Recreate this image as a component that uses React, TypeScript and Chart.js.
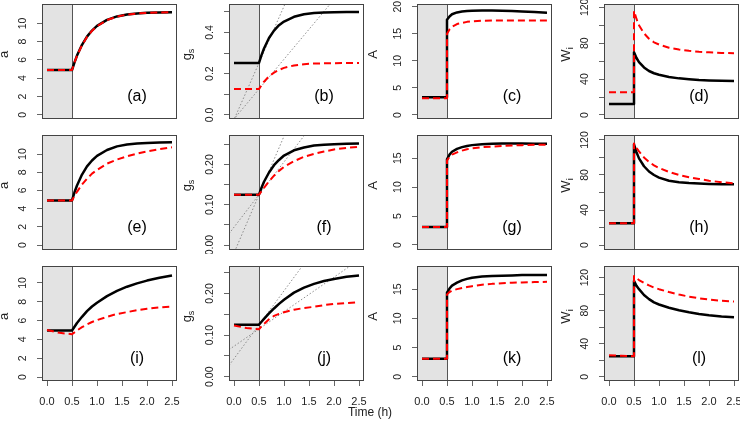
import React, { useEffect, useRef } from 'react';
import { Chart, registerables } from 'chart.js';
Chart.register(...registerables);

const FONT = '"Liberation Sans", Arial, Helvetica, sans-serif';

// ---- data ----
const TIME = [0, 0.25, 0.5, 0.5, 0.55, 0.6, 0.7, 0.8, 0.9, 1.0, 1.2, 1.4, 1.6, 1.8, 2.0, 2.25, 2.5];
const SHADE_END = 0.5;
const X_TICKS = [0, 0.5, 1, 1.5, 2, 2.5];
const TANGENT_X = [-0.1, 2.6];

const A_BLACK = [4.9, 4.9, 4.9, 4.9, 5.74, 6.48, 7.66, 8.56, 9.22, 9.73, 10.39, 10.77, 10.98, 11.1, 11.16, 11.21, 11.23];
const A_RED = [4.9, 4.9, 4.9, 4.9, 5.72, 6.45, 7.62, 8.52, 9.19, 9.7, 10.37, 10.75, 10.97, 11.09, 11.15, 11.2, 11.22];
const E_BLACK = [4.9, 4.9, 4.9, 4.9, 5.8, 6.55, 7.75, 8.65, 9.3, 9.8, 10.45, 10.85, 11.05, 11.17, 11.23, 11.27, 11.3];
const E_RED = [4.9, 4.9, 4.9, 4.9, 5.4, 5.85, 6.65, 7.3, 7.85, 8.25, 8.95, 9.4, 9.75, 10.05, 10.3, 10.55, 10.75];
const I_BLACK = [4.95, 4.95, 4.95, 4.95, 5.35, 5.75, 6.4, 7.0, 7.5, 7.9, 8.6, 9.15, 9.6, 9.95, 10.25, 10.55, 10.8];
const I_RED = [5.0, 4.7, 4.55, 4.55, 4.75, 4.95, 5.3, 5.6, 5.85, 6.05, 6.4, 6.7, 6.9, 7.1, 7.25, 7.4, 7.5];

const B_BLACK = [0.252, 0.252, 0.252, 0.252, 0.29, 0.322, 0.373, 0.409, 0.435, 0.453, 0.476, 0.488, 0.494, 0.497, 0.498, 0.499, 0.499];
const B_RED = [0.125, 0.125, 0.125, 0.125, 0.145, 0.161, 0.187, 0.205, 0.218, 0.228, 0.24, 0.246, 0.249, 0.25, 0.251, 0.252, 0.252];
const F_BLACK = [0.125, 0.125, 0.125, 0.125, 0.142, 0.157, 0.18, 0.198, 0.211, 0.222, 0.235, 0.242, 0.247, 0.249, 0.25, 0.251, 0.252];
const F_RED = [0.125, 0.125, 0.125, 0.125, 0.133, 0.142, 0.158, 0.172, 0.184, 0.194, 0.208, 0.219, 0.226, 0.232, 0.237, 0.241, 0.244];
const J_BLACK = [0.125, 0.125, 0.125, 0.125, 0.132, 0.139, 0.152, 0.164, 0.175, 0.185, 0.202, 0.214, 0.223, 0.23, 0.235, 0.24, 0.243];
const J_RED = [0.123, 0.117, 0.114, 0.114, 0.121, 0.127, 0.138, 0.146, 0.151, 0.155, 0.161, 0.165, 0.168, 0.172, 0.175, 0.177, 0.179];

const C_BLACK = [3.3, 3.3, 3.3, 17.6, 18.2, 18.6, 18.95, 19.1, 19.2, 19.25, 19.3, 19.3, 19.25, 19.2, 19.1, 19.0, 18.9];
const C_RED = [3.1, 3.1, 3.1, 15.0, 15.8, 16.3, 16.8, 17.0, 17.2, 17.3, 17.4, 17.45, 17.45, 17.45, 17.45, 17.45, 17.45];
const G_BLACK = [3.1, 3.1, 3.1, 14.8, 15.6, 16.1, 16.6, 16.9, 17.1, 17.25, 17.4, 17.5, 17.55, 17.55, 17.55, 17.5, 17.5];
const G_RED = [3.1, 3.1, 3.1, 14.6, 15.2, 15.6, 16.0, 16.3, 16.55, 16.7, 16.9, 17.0, 17.1, 17.2, 17.25, 17.3, 17.3];
const K_BLACK = [3.1, 3.1, 3.1, 14.4, 15.1, 15.6, 16.1, 16.5, 16.75, 16.95, 17.15, 17.25, 17.3, 17.35, 17.4, 17.4, 17.4];
const K_RED = [3.1, 3.1, 3.1, 14.1, 14.5, 14.75, 15.0, 15.2, 15.35, 15.5, 15.75, 15.9, 16.0, 16.1, 16.15, 16.2, 16.25];

const D_BLACK = [12.3, 12.3, 12.3, 70, 63.5, 59, 53, 49, 46.5, 44.8, 42.3, 40.8, 39.8, 39.0, 38.5, 38.1, 37.8];
const D_RED = [25.3, 25.3, 25.3, 116, 107, 100, 91, 85, 81, 78.5, 75, 73, 71.5, 70.5, 69.8, 69.2, 68.8];
const H_BLACK = [24.8, 24.8, 24.8, 115, 106, 99, 90, 84, 80, 77, 73.5, 71.8, 70.8, 70.2, 69.8, 69.5, 69.3];
const H_RED = [24.8, 24.8, 24.8, 116, 111, 107, 100, 95, 91, 88, 83.5, 80, 77.5, 75.5, 73.5, 71.8, 70.5];
const L_BLACK = [24.8, 24.8, 24.8, 116, 110, 106, 99, 94, 90, 87.5, 83.5, 80.5, 78, 76, 74.5, 73, 72];
const L_RED = [26, 25.5, 25, 122, 119.5, 117, 113.5, 110.5, 108, 106, 102.5, 99.5, 97, 95, 93.5, 92, 91];

// tangent (dotted) lines: y at TANGENT_X
const TAN_B1 = [-0.078, 1.407];
const TAN_B2 = [-0.049, 0.734];
const TAN_F1 = [-0.049, 0.734];
const TAN_F2 = [0.028, 0.465];
const TAN_J1 = [0.027, 0.467];
const TAN_J2 = [0.065, 0.289];

// y ticks
const A_TICKS = [0, 2, 4, 6, 8, 10];
const A_LABELS = ['0', '2', '4', '6', '8', '10'];
const GS_TICKS_B = [0, 0.1, 0.2, 0.3, 0.4, 0.5];
const GS_LABEL_VALS_B = [0, 0.2, 0.4];
const GS_LABELS_B = ['0.0', '0.2', '0.4'];
const GS_TICKS = [0, 0.05, 0.1, 0.15, 0.2, 0.25];
const GS_LABEL_VALS = [0, 0.1, 0.2];
const GS_LABELS = ['0.00', '0.10', '0.20'];
const AN_TICKS_C = [0, 5, 10, 15, 20];
const AN_LABELS_C = ['0', '5', '10', '15', '20'];
const AN_TICKS = [0, 5, 10, 15];
const AN_LABELS = ['0', '5', '10', '15'];
const W_TICKS = [0, 20, 40, 60, 80, 100, 120];
const W_LABEL_VALS = [0, 40, 80, 120];
const W_LABELS = ['0', '40', '80', '120'];

// ---- layout ----
const COL_LEFT = [42, 229, 417, 604];
const ROW_TOP = [4, 135, 266];
const BOX_W = 135;
const BOX_H = 115;
const Y_AXIS_W = 52;
const PAD_T = 4;
const PAD_R = 8;
const PAD_B = 4;
const X_AXIS_H = 36;

type Panel = {
  id: string; row: number; col: number;
  black: number[]; red: number[]; yMin: number; yMax: number;
  ticks: number[]; labelVals: number[]; labels: string[];
  title: string; sub: string; tangents: number[][];
};

const PANELS: Panel[] = [
  { id: 'a', row: 0, col: 0, black: A_BLACK, red: A_RED, yMin: -0.47, yMax: 12.13, ticks: A_TICKS, labelVals: A_TICKS, labels: A_LABELS, title: 'a', sub: '', tangents: [] },
  { id: 'b', row: 0, col: 1, black: B_BLACK, red: B_RED, yMin: -0.02, yMax: 0.538, ticks: GS_TICKS_B, labelVals: GS_LABEL_VALS_B, labels: GS_LABELS_B, title: 'g', sub: 's', tangents: [TAN_B1, TAN_B2] },
  { id: 'c', row: 0, col: 2, black: C_BLACK, red: C_RED, yMin: -0.74, yMax: 20.5, ticks: AN_TICKS_C, labelVals: AN_TICKS_C, labels: AN_LABELS_C, title: 'A', sub: '', tangents: [] },
  { id: 'd', row: 0, col: 3, black: D_BLACK, red: D_RED, yMin: -4.5, yMax: 123.7, ticks: W_TICKS, labelVals: W_LABEL_VALS, labels: W_LABELS, title: 'W', sub: 'i', tangents: [] },
  { id: 'e', row: 1, col: 0, black: E_BLACK, red: E_RED, yMin: -0.55, yMax: 12.1, ticks: A_TICKS, labelVals: A_TICKS, labels: A_LABELS, title: 'a', sub: '', tangents: [] },
  { id: 'f', row: 1, col: 1, black: F_BLACK, red: F_RED, yMin: -0.0124, yMax: 0.273, ticks: GS_TICKS, labelVals: GS_LABEL_VALS, labels: GS_LABELS, title: 'g', sub: 's', tangents: [TAN_F1, TAN_F2] },
  { id: 'g', row: 1, col: 2, black: G_BLACK, red: G_RED, yMin: -0.87, yMax: 19.0, ticks: AN_TICKS, labelVals: AN_TICKS, labels: AN_LABELS, title: 'A', sub: '', tangents: [] },
  { id: 'h', row: 1, col: 3, black: H_BLACK, red: H_RED, yMin: -5.7, yMax: 125.7, ticks: W_TICKS, labelVals: W_LABEL_VALS, labels: W_LABELS, title: 'W', sub: 'i', tangents: [] },
  { id: 'i', row: 2, col: 0, black: I_BLACK, red: I_RED, yMin: -0.42, yMax: 11.8, ticks: A_TICKS, labelVals: A_TICKS, labels: A_LABELS, title: 'a', sub: '', tangents: [] },
  { id: 'j', row: 2, col: 1, black: J_BLACK, red: J_RED, yMin: -0.0103, yMax: 0.266, ticks: GS_TICKS, labelVals: GS_LABEL_VALS, labels: GS_LABELS, title: 'g', sub: 's', tangents: [TAN_J1, TAN_J2] },
  { id: 'k', row: 2, col: 2, black: K_BLACK, red: K_RED, yMin: -0.73, yMax: 18.96, ticks: AN_TICKS, labelVals: AN_TICKS, labels: AN_LABELS, title: 'A', sub: '', tangents: [] },
  { id: 'l', row: 2, col: 3, black: L_BLACK, red: L_RED, yMin: -5, yMax: 134, ticks: W_TICKS, labelVals: W_LABEL_VALS, labels: W_LABELS, title: 'W', sub: 'i', tangents: [] },
];

const TITLE_OFFSET = [34, 38, 40, 34];

function makePlugin(p: Panel) {
  return {
    id: 'deco_' + p.id,
    beforeDatasetsDraw(chart: any) {
      const { ctx, chartArea: a, scales } = chart;
      const xs = scales.x.getPixelForValue(SHADE_END);
      ctx.save();
      ctx.fillStyle = '#e3e3e3';
      ctx.fillRect(a.left, a.top, xs - a.left, a.bottom - a.top);
      ctx.strokeStyle = '#555';
      ctx.lineWidth = 1;
      ctx.beginPath();
      const vx = Math.round(xs) + 0.5;
      ctx.moveTo(vx, a.top);
      ctx.lineTo(vx, a.bottom);
      ctx.stroke();
      ctx.restore();
    },
    afterDraw(chart: any) {
      const { ctx, chartArea: a, scales } = chart;
      const ys = scales.y;
      ctx.save();
      // box
      ctx.strokeStyle = '#444';
      ctx.lineWidth = 1;
      ctx.strokeRect(a.left + 0.5, a.top + 0.5, a.right - a.left - 1, a.bottom - a.top - 1);
      // y tick labels (rotated, like R)
      ctx.fillStyle = '#222';
      ctx.font = `10.5px ${FONT}`;
      ctx.textAlign = 'center';
      ctx.textBaseline = 'middle';
      p.labelVals.forEach((v, i) => {
        const y = ys.getPixelForValue(v);
        ctx.save();
        ctx.translate(a.left - 18.5, y);
        ctx.rotate(-Math.PI / 2);
        ctx.fillText(p.labels[i], 0, 0);
        ctx.restore();
      });
      // y title
      const midY = (a.top + a.bottom) / 2 - 7;
      ctx.save();
      ctx.translate(a.left - TITLE_OFFSET[p.col], midY);
      ctx.rotate(-Math.PI / 2);
      ctx.textAlign = 'left';
      ctx.textBaseline = 'alphabetic';
      ctx.font = `13px ${FONT}`;
      const w = ctx.measureText(p.title).width;
      ctx.font = `9px ${FONT}`;
      const ws = p.sub ? ctx.measureText(p.sub).width : 0;
      const x0 = -(w + ws) / 2;
      ctx.font = `13px ${FONT}`;
      ctx.fillText(p.title, x0, 0);
      if (p.sub) {
        ctx.font = `9px ${FONT}`;
        ctx.fillText(p.sub, x0 + w, 3);
      }
      ctx.restore();
      // panel label
      ctx.fillStyle = '#000';
      ctx.font = `16px ${FONT}`;
      ctx.textAlign = 'center';
      ctx.textBaseline = 'middle';
      ctx.fillText(`(${p.id})`, a.left + 95, a.top + 93);
      ctx.restore();
    },
  };
}

function makeConfig(p: Panel): any {
  const pts = (arr: number[]) => arr.map((y, i) => ({ x: TIME[i], y }));
  const common = { pointRadius: 0, tension: 0, fill: false, borderCapStyle: 'butt', borderJoinStyle: 'round' };
  const datasets: any[] = [
    { ...common, data: pts(p.red), borderColor: '#ff0000', borderWidth: 2, borderDash: [7, 4] },
    { ...common, data: pts(p.black), borderColor: '#000000', borderWidth: 2.5 },
    ...p.tangents.map((t) => ({
      ...common,
      data: TANGENT_X.map((x, i) => ({ x, y: t[i] })),
      borderColor: '#808080', borderWidth: 0.9, borderDash: [1.5, 2],
    })),
  ];
  const isBottom = p.row === 2;
  return {
    type: 'line',
    data: { datasets },
    plugins: [makePlugin(p)],
    options: {
      responsive: false,
      maintainAspectRatio: false,
      animation: false,
      events: [],
      layout: { padding: { left: 0, top: PAD_T, right: PAD_R, bottom: PAD_B } },
      plugins: { legend: { display: false }, tooltip: { enabled: false } },
      scales: {
        x: {
          type: 'linear',
          min: -0.1,
          max: 2.6,
          display: isBottom,
          afterBuildTicks: (s: any) => { s.ticks = X_TICKS.map((v) => ({ value: v })); },
          ticks: {
            autoSkip: false, maxRotation: 0, minRotation: 0,
            padding: 9, color: '#222',
            font: { size: 11, family: FONT },
            callback: (v: any) => Number(v).toFixed(1),
          },
          grid: { drawOnChartArea: false, drawTicks: true, tickLength: 5, color: '#666' },
          border: { display: false },
          afterFit: (s: any) => { s.height = isBottom ? X_AXIS_H : 0; s.paddingLeft = 0; s.paddingRight = 0; },
        },
        y: {
          type: 'linear',
          min: p.yMin,
          max: p.yMax,
          afterBuildTicks: (s: any) => { s.ticks = p.ticks.map((v) => ({ value: v })); },
          ticks: { display: false },
          grid: { drawOnChartArea: false, drawTicks: true, tickLength: 5, color: '#666' },
          border: { display: false },
          afterFit: (s: any) => { s.width = Y_AXIS_W; s.paddingTop = 0; s.paddingBottom = 0; },
        },
      },
    },
  };
}

export default function App() {
  const refs = useRef<(HTMLCanvasElement | null)[]>([]);
  useEffect(() => {
    const charts = PANELS.map((p, i) => new Chart(refs.current[i] as HTMLCanvasElement, makeConfig(p)));
    return () => charts.forEach((c) => c.destroy());
  }, []);
  const cw = Y_AXIS_W + BOX_W + PAD_R;
  return (
    <div style={{ position: 'absolute', left: 0, top: 0, width: 740, height: 429, background: '#fff', overflow: 'hidden' }}>
      {PANELS.map((p, i) => {
        const h = PAD_T + BOX_H + PAD_B + (p.row === 2 ? X_AXIS_H : 0);
        return (
          <canvas
            key={p.id}
            ref={(el) => { refs.current[i] = el; }}
            width={cw}
            height={h}
            style={{ position: 'absolute', left: COL_LEFT[p.col] - Y_AXIS_W, top: ROW_TOP[p.row] - PAD_T, width: cw, height: h }}
          />
        );
      })}
      <div style={{ position: 'absolute', left: 0, width: 740, top: 405, textAlign: 'center', fontFamily: FONT, fontSize: 12, color: '#222', lineHeight: '14px' }}>
        Time (h)
      </div>
    </div>
  );
}
